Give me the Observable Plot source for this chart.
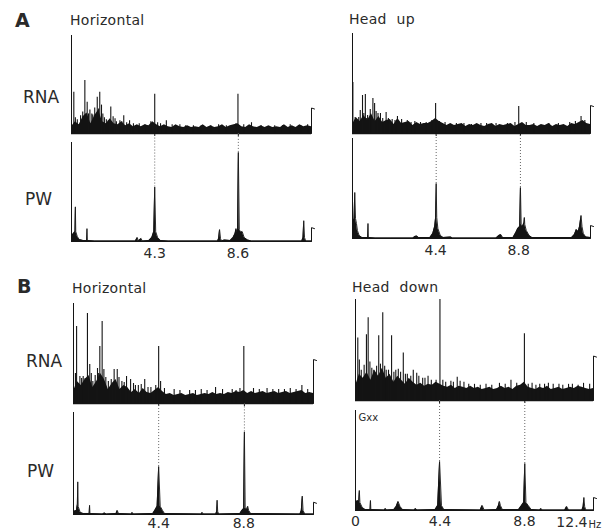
<!DOCTYPE html>
<html><head><meta charset="utf-8">
<script src="https://cdn.jsdelivr.net/npm/d3@7"></script>
<script src="https://cdn.jsdelivr.net/npm/@observablehq/plot@0.6"></script>
<style>
body{margin:0;background:#fff;}
#fig{position:relative;width:616px;height:531px;overflow:hidden;font-family:"DejaVu Sans",sans-serif;}
#fig > .pan{position:absolute;}
#fig > svg.ov{position:absolute;left:0;top:0;pointer-events:none;}
</style></head><body><div id="fig"></div>
<script>
// ---------- DATA (heights in % of panel height, frequencies in Hz) ----------
const FLOOR_STEP = 0.2; // sampling step of the RNA noise-floor arrays (Hz)

// Panel A, Horizontal
const aHorRnaFloor = [7,12,9,17,21,10,18,24,12,10,15,10,9,12,8,10,7,9,7,9,8,12,9,7,9,7,6,9,7,6,8,6,7,6,9,6,8,6,7,9,6,8,9,10,7,6,9,7,6,8,6,8,6,7,6,9,6,8,6,9,7,8,7];
const aHorRnaSpikes = [[0.12,42],[0.2,16],[0.3,14],[0.47,18],[0.58,22],[0.69,54],[0.81,32],[0.88,20],[0.95,24],[1.05,20],[1.1,19],[1.2,26],[1.33,37],[1.4,25],[1.46,42],[1.55,29],[1.62,20],[1.7,16],[1.8,14],[1.9,13],[2.03,27],[2.15,17],[2.25,15],[2.32,12],[2.5,13],[2.6,12],[2.7,18],[2.85,11],[3.0,13],[3.2,10],[3.5,10],[3.8,9],[4.1,12],[4.3,40],[4.45,11],[4.6,10],[4.9,13],[5.2,9],[5.6,9],[5.9,8],[6.3,8],[6.7,8],[7.2,8],[7.6,9],[8.0,8],[8.5,10],[8.6,40],[8.9,9],[9.3,11],[9.8,8],[10.5,8],[10.9,8],[11.3,9],[11.85,8],[12.2,9]];
const aHorPw = [[0,6],[0.1,8],[0.18,10],[0.2,35],[0.22,10],[0.3,5],[0.4,2],[0.6,1],[0.78,1],[0.8,13],[0.82,1],[1.2,0.5],[3.3,0.5],[3.4,4],[3.45,0.5],[3.6,3],[3.65,0.5],[4.0,1],[4.15,4],[4.25,10],[4.3,55],[4.35,10],[4.45,4],[4.6,1],[5.0,0.5],[7.55,0.5],[7.6,3],[7.65,12],[7.7,3],[7.75,0.5],[7.9,1.5],[8.2,1],[8.35,4],[8.45,8],[8.5,13],[8.55,9],[8.58,12],[8.62,90],[8.67,12],[8.75,9],[8.82,10],[8.92,4],[9.1,1.5],[9.3,0.5],[11.9,0.5],[11.96,4],[12.0,21],[12.04,4],[12.1,0.5],[12.4,0.5]];
const aHorTicks = [4.3, 8.6];

// Panel A, Head up
const aUpRnaFloor = [9,16,12,18,13,20,12,17,11,13,14,9,15,10,11,12,8,11,9,10,10,12,15,12,10,8,10,8,9,10,7,9,8,10,8,7,9,10,7,9,8,9,10,7,9,11,8,8,9,7,9,8,10,7,9,8,9,7,10,9,11,13,10,9];
const aUpRnaSpikes = [[0.02,51],[0.14,16],[0.25,12],[0.33,16],[0.41,23],[0.53,38],[0.6,20],[0.68,39],[0.75,15],[0.8,18],[0.94,24],[1.0,17],[1.08,35],[1.17,30],[1.25,22],[1.35,20],[1.48,20],[1.6,15],[1.78,21],[1.9,15],[2.1,14],[2.25,13],[2.38,17],[2.6,14],[2.9,13],[3.1,11],[3.3,12],[3.6,11],[3.9,11],[4.2,13],[4.4,30],[4.6,12],[4.9,11],[5.5,10],[5.9,10],[6.3,9],[6.8,10],[7.1,10],[7.6,10],[8.2,10],[8.6,11],[8.8,27],[9.2,11],[9.6,10],[10.4,10],[10.9,10],[11.5,11],[11.8,12],[12.1,17],[12.3,13]];
const aUpPw = [[0,15],[0.08,20],[0.12,46],[0.16,20],[0.21,15],[0.26,8],[0.35,3],[0.5,1],[0.8,1],[0.82,15],[0.84,1],[1.2,0.5],[2.0,0.5],[3.2,0.5],[3.3,2],[3.4,2.5],[3.5,1],[4.1,1],[4.25,5],[4.35,12],[4.4,21],[4.43,55],[4.46,21],[4.52,10],[4.65,3],[4.8,1],[5.2,1.5],[5.3,0.5],[7.6,0.5],[7.75,3],[7.85,4],[7.95,1],[8.5,1],[8.65,6],[8.75,10],[8.85,12],[8.89,51],[8.93,14],[9.0,12],[9.08,16],[9.1,21],[9.12,14],[9.2,8],[9.35,3],[9.5,1],[11.6,1],[11.75,4],[11.85,9],[11.95,7],[12.02,12],[12.1,23],[12.15,12],[12.22,5],[12.35,1.5],[12.6,1]];
const aUpTicks = [4.4, 8.8];

// Panel B, Horizontal
const bHorRnaFloor = [12,22,18,24,28,16,22,30,24,14,20,24,14,18,16,11,14,10,15,11,10,13,16,12,9,10,8,9,10,8,9,10,8,9,10,9,11,9,10,9,11,10,12,11,13,10,12,10,11,12,10,11,12,10,11,12,10,11,12,13,10,11,10];
const bHorRnaSpikes = [[0.1,30],[0.16,77],[0.33,27],[0.42,25],[0.5,27],[0.6,25],[0.72,90],[0.84,39],[0.92,30],[1.0,22],[1.12,28],[1.24,35],[1.3,30],[1.36,57],[1.48,82],[1.57,34],[1.67,26],[1.8,22],[1.95,24],[2.1,34],[2.26,34],[2.35,26],[2.5,22],[2.62,21],[2.74,27],[2.95,24],[3.1,20],[3.2,18],[3.35,18],[3.5,19],[3.68,24],[3.85,16],[4.0,16],[4.25,18],[4.4,57],[4.5,22],[4.7,15],[5.2,14],[5.5,13],[6.0,13],[6.3,13],[6.6,14],[6.9,13],[7.34,16],[7.7,14],[8.2,14],[8.4,13],[8.6,15],[8.8,57],[9.3,15],[9.6,14],[10.0,15],[10.3,14],[10.6,14],[10.9,14],[11.2,15],[11.5,14],[11.8,18],[12.1,14]];
const bHorPw = [[0,3],[0.15,4],[0.2,10],[0.22,32],[0.24,8],[0.35,2],[0.5,1],[0.81,1],[0.83,9],[0.85,1],[1.5,0.5],[1.6,1.5],[1.7,0.5],[2.2,1],[2.26,4],[2.32,1],[3.0,0.5],[3.03,2],[3.1,0.5],[4.1,1],[4.2,4],[4.32,8],[4.4,47],[4.48,8],[4.6,4],[4.7,1],[6.6,0.5],[6.65,2],[6.7,0.5],[7.35,0.5],[7.4,3],[7.42,14],[7.45,3],[7.5,0.5],[8.6,1],[8.7,4],[8.79,6],[8.83,81],[8.87,6],[8.95,5],[9.0,8],[9.05,4],[9.15,1],[11.7,0.5],[11.77,4],[11.82,18],[11.86,4],[11.95,0.5],[12.4,0.5]];
const bHorTicks = [4.4, 8.8];

// Panel B, Head down
const bDownRnaFloor = [14,26,22,28,20,30,24,32,22,26,18,24,20,16,22,18,15,17,14,16,15,18,16,14,13,15,12,14,13,12,14,12,13,11,12,13,11,12,14,12,13,11,14,15,18,13,12,11,13,12,14,11,12,13,11,12,13,12,14,13,12,11,12];
const bDownRnaSpikes = [[0.12,62],[0.2,40],[0.3,30],[0.45,35],[0.57,65],[0.66,82],[0.75,38],[0.85,32],[0.95,30],[1.1,34],[1.21,64],[1.3,36],[1.42,87],[1.52,34],[1.6,30],[1.72,30],[1.88,64],[2.0,28],[2.1,30],[2.23,31],[2.35,28],[2.49,47],[2.6,26],[2.7,26],[2.88,24],[3.01,30],[3.19,27],[3.3,24],[3.5,22],[3.62,22],[3.78,24],[3.95,20],[4.2,20],[4.4,100],[4.55,20],[4.7,18],[4.97,19],[5.1,18],[5.3,23],[5.45,19],[5.65,18],[5.9,16],[6.2,16],[6.5,15],[6.8,16],[7.1,15],[7.5,17],[7.8,16],[8.1,20],[8.4,17],[8.8,66],[9.0,16],[9.2,17],[9.4,15],[9.6,16],[9.85,16],[10.05,17],[10.3,16],[10.6,16],[10.8,15],[11.1,16],[11.3,16],[11.6,15],[11.88,17],[12.2,16]];
const bDownPw = [[0,8],[0.1,10],[0.17,9],[0.2,20],[0.23,8],[0.35,3],[0.5,1],[0.76,1],[0.78,10],[0.8,1],[1.5,0.5],[1.56,2],[1.62,0.5],[2.0,1],[2.12,4],[2.22,9],[2.32,4],[2.45,1],[3.05,0.5],[3.13,2],[3.2,0.5],[4.15,1],[4.28,5],[4.38,49],[4.48,5],[4.6,1],[6.5,0.5],[6.55,3],[6.6,5],[6.65,3],[6.7,0.5],[7.35,1],[7.45,5],[7.5,9],[7.55,5],[7.65,1],[8.5,1],[8.65,5],[8.76,8],[8.82,47],[8.88,8],[9.0,5],[9.15,1],[9.6,0.5],[9.66,2],[9.72,0.5],[10.9,0.5],[11.0,4],[11.1,0.5],[11.8,0.5],[11.86,4],[11.9,13],[11.94,4],[12.0,0.5],[12.4,0.5]];
const bDownTicks = [0, 4.4, 8.8];
const bDownEndLabel = "12.4";
const bDownUnit = "Hz";

// calibration hooks at the right end (height in %)
const rnaHooks = [26, 28, 44, 44];
const pwHooks = [14, 13, 12, 13];
// frequency span shown per panel (Hz)
const spans = [12.4, 12.6, 12.4, 12.4];

// Text
const sectionLabels = ["A", "B"];
const titles = ["Horizontal", "Head up", "Horizontal", "Head down"];
const rowLabels = ["RNA", "PW"];
const yUnitLabel = "Gxx";

// ---------- LAYOUT ----------
const INK = "#141414";
const TXT = "#2a2a2a";
const geo = [
  {x0:71,  x1:311, rT:35,  rB:133, pT:142, pB:241, pad:7},
  {x0:352, x1:590, rT:33,  rB:133, pT:138, pB:238, pad:7},
  {x0:73,  x1:313, rT:303, rB:403, pT:412, pB:514, pad:4},
  {x0:355, x1:593, rT:299, rB:400, pT:410, pB:510, pad:6}
];
const panels = [
  {floor:aHorRnaFloor, spikes:aHorRnaSpikes, pw:aHorPw, ticks:aHorTicks},
  {floor:aUpRnaFloor, spikes:aUpRnaSpikes, pw:aUpPw, ticks:aUpTicks},
  {floor:bHorRnaFloor, spikes:bHorRnaSpikes, pw:bHorPw, ticks:bHorTicks},
  {floor:bDownRnaFloor, spikes:bDownRnaSpikes, pw:bDownPw, ticks:bDownTicks}
];

const fig = document.getElementById("fig");
function place(node, left, top) {
  const d = document.createElement("div");
  d.className = "pan";
  d.style.left = left + "px"; d.style.top = top + "px";
  d.appendChild(node); fig.appendChild(d);
}

panels.forEach((p, k) => {
  const g = geo[k], xMax = spans[k];
  const w = g.x1 - g.x0;
  const hookDx = 3 * xMax / w;
  const fmt = d => d === 0 ? "0" : d.toFixed(1);
  const pwPts = p.pw.map(([f, v]) => ({f, v}));
  // peak positions the dotted guides drop to: the highest PW point near each labelled frequency
  const guides = p.ticks.filter(t => t > 0).map(t => {
    const near = pwPts.filter(d => Math.abs(d.f - t) <= 0.12);
    return near.reduce((a, b) => b.v > a.v ? b : a);
  });

  // RNA spectrum
  {
    const mL = 3, mR = 8, mT = 2, mB = 5, h = g.rB - g.rT;
    const chart = Plot.plot({
      width: w + mL + mR, height: h + mT + mB,
      marginLeft: mL, marginRight: mR, marginTop: mT, marginBottom: mB,
      x: {domain: [0, xMax], axis: null},
      y: {domain: [0, 100], axis: null},
      style: {background: "transparent", overflow: "visible"},
      marks: [
        Plot.areaY(p.floor.map((v, i) => ({f: i * FLOOR_STEP, v})), {x: "f", y: "v", fill: INK, curve: "linear"}),
        Plot.ruleX(p.spikes.map(([f, v]) => ({f, v})), {x: "f", y1: 0, y2: "v", stroke: INK, strokeWidth: 1.1}),
        Plot.ruleX([0], {y1: 0, y2: 100, stroke: INK, strokeWidth: 1}),
        Plot.ruleY([0], {stroke: INK, strokeWidth: 1.5}),
        Plot.ruleX(guides, {x: "f", y1: -3, y2: 0, stroke: INK, strokeWidth: 1}),
        Plot.line([{f: xMax, v: 0}, {f: xMax, v: rnaHooks[k]}, {f: xMax + hookDx, v: rnaHooks[k] - 1}], {x: "f", y: "v", stroke: INK, strokeWidth: 1})
      ]
    });
    place(chart, g.x0 - mL, g.rT - mT);
  }

  // PW spectrum
  {
    const mL = 3, mR = 14, mT = g.pT - g.rB, mB = 20, h = g.pB - g.pT;
    const guideTop = 100 + 100 * mT / h;
    const marks = [
      Plot.ruleX(guides, {x: "f", y1: "v", y2: guideTop, stroke: "#666", strokeWidth: 1, strokeDasharray: "1,2"}),
      Plot.areaY(pwPts, {x: "f", y: "v", fill: INK, curve: "linear"}),
      Plot.line(pwPts, {x: "f", y: "v", stroke: INK, strokeWidth: 0.9}),
      Plot.ruleX([0], {y1: 0, y2: 100, stroke: INK, strokeWidth: 1}),
      Plot.ruleY([0], {stroke: INK, strokeWidth: 1}),
      Plot.line([{f: xMax, v: 0}, {f: xMax, v: pwHooks[k]}, {f: xMax + hookDx, v: pwHooks[k] - 1}], {x: "f", y: "v", stroke: INK, strokeWidth: 1}),
      Plot.axisX({ticks: p.ticks, tickFormat: fmt, tickSize: 0, tickPadding: g.pad, fontSize: 14, label: null, fill: TXT})
    ];
    if (k === 3) {
      marks.push(Plot.text([xMax], {x: d => d, frameAnchor: "bottom", lineAnchor: "top", dy: g.pad + 1, dx: -6, textAnchor: "end", text: () => bDownEndLabel, fontSize: 14, fill: TXT}));
      marks.push(Plot.text([xMax], {x: d => d, frameAnchor: "bottom", lineAnchor: "top", dy: g.pad + 4, dx: -5, textAnchor: "start", text: () => bDownUnit, fontSize: 10, fill: TXT}));
      marks.push(Plot.text([0], {x: d => d, frameAnchor: "top", lineAnchor: "top", dy: 3, dx: 3, textAnchor: "start", text: () => yUnitLabel, fontSize: 10, fill: TXT}));
    }
    const chart = Plot.plot({
      width: w + mL + mR, height: h + mT + mB,
      marginLeft: mL, marginRight: mR, marginTop: mT, marginBottom: mB,
      x: {domain: [0, xMax], axis: null},
      y: {domain: [0, 100], axis: null},
      style: {background: "transparent", overflow: "visible", fontFamily: "DejaVu Sans", color: TXT},
      marks
    });
    place(chart, g.x0 - mL, g.rB);
  }
});

// Overlay text (section letters, titles, row labels)
const NS = "http://www.w3.org/2000/svg";
const ov = document.createElementNS(NS, "svg");
ov.setAttribute("class", "ov"); ov.setAttribute("width", 616); ov.setAttribute("height", 531);
fig.appendChild(ov);
function txt(s, x, y, size, weight, extra) {
  const t = document.createElementNS(NS, "text");
  t.setAttribute("x", x); t.setAttribute("y", y);
  t.setAttribute("font-family", "DejaVu Sans"); t.setAttribute("font-size", size);
  t.setAttribute("fill", TXT);
  if (weight) t.setAttribute("font-weight", weight);
  if (extra) for (const k in extra) t.setAttribute(k, extra[k]);
  t.textContent = s; ov.appendChild(t);
}
txt(sectionLabels[0], 15, 27, 19, "bold");
txt(sectionLabels[1], 17, 293, 19, "bold");
txt(titles[0], 70, 25, 14, null, {"letter-spacing": "0.3"});
txt(titles[1], 349, 24, 14, null, {"letter-spacing": "0.3", "word-spacing": "5"});
txt(titles[2], 72, 293, 14, null, {"letter-spacing": "0.3"});
txt(titles[3], 352, 292, 14, null, {"letter-spacing": "0.3", "word-spacing": "5"});
txt(rowLabels[0], 23, 103, 17);
txt(rowLabels[1], 25, 205, 17);
txt(rowLabels[0], 26, 367, 17);
txt(rowLabels[1], 27, 477, 17);
</script></body></html>
